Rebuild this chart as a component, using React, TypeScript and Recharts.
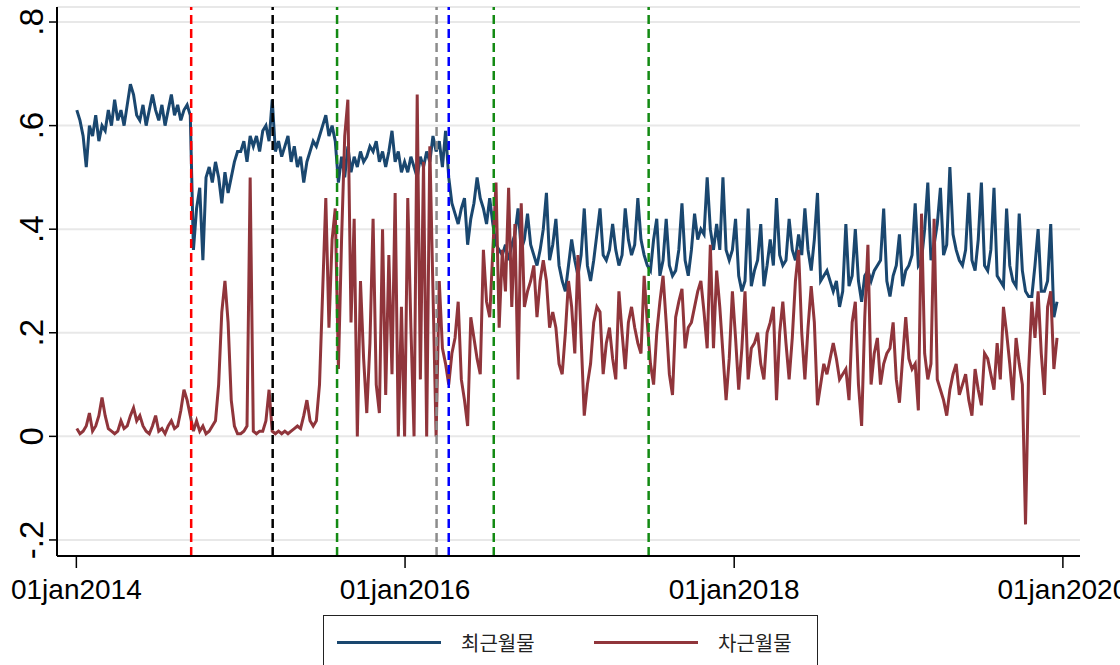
import React from "react";
import { LineChart, Line, XAxis, YAxis, CartesianGrid, ReferenceLine } from "recharts";

// weekly readings, first point 2014-01-02
const FIRST_DAY = "2014-01-02";

// 최근월물 (near month)
const NEAR_2014 = [
  0.63, 0.61, 0.58, 0.52, 0.6, 0.58, 0.62, 0.57, 0.6, 0.59,
  0.63, 0.6, 0.65, 0.61, 0.63, 0.6, 0.64, 0.68, 0.66, 0.62,
  0.61, 0.64, 0.6, 0.63, 0.66, 0.63, 0.61, 0.64, 0.6, 0.63,
  0.66, 0.62, 0.64, 0.61, 0.63, 0.64, 0.62, 0.36, 0.44, 0.48,
  0.34, 0.5, 0.52, 0.49, 0.53, 0.5, 0.45, 0.51, 0.47, 0.5,
  0.53, 0.55,
];
const NEAR_2015 = [
  0.55, 0.57, 0.53, 0.58, 0.56, 0.58, 0.55, 0.59, 0.6, 0.57,
  0.65, 0.55, 0.57, 0.54, 0.56, 0.58, 0.53, 0.56, 0.52, 0.54,
  0.49, 0.53, 0.55, 0.57, 0.56, 0.58, 0.6, 0.62, 0.58, 0.6,
  0.57, 0.49, 0.54, 0.5, 0.56, 0.51, 0.54, 0.52, 0.55, 0.53,
  0.54, 0.56, 0.55, 0.57, 0.53, 0.55, 0.52, 0.55, 0.59, 0.53,
  0.55, 0.51,
];
const NEAR_2016 = [
  0.53, 0.51, 0.54, 0.52, 0.5, 0.54, 0.52, 0.55, 0.53, 0.58,
  0.55, 0.57, 0.52, 0.59, 0.5, 0.45, 0.43, 0.41, 0.44, 0.46,
  0.37, 0.42, 0.45, 0.5, 0.46, 0.44, 0.41, 0.46, 0.41, 0.37,
  0.36, 0.35, 0.37, 0.34, 0.37, 0.39, 0.44, 0.36, 0.38, 0.43,
  0.37, 0.35, 0.33, 0.36, 0.4, 0.47, 0.34, 0.37, 0.42, 0.33,
  0.3, 0.28,
];
const NEAR_2017 = [
  0.33, 0.38, 0.34, 0.31, 0.35, 0.44, 0.33, 0.3, 0.34, 0.39,
  0.44, 0.35, 0.34, 0.36, 0.41, 0.36, 0.33, 0.35, 0.44, 0.38,
  0.35, 0.37, 0.46, 0.38, 0.35, 0.33, 0.32, 0.38, 0.42, 0.31,
  0.34, 0.42, 0.33, 0.31, 0.32, 0.36, 0.45, 0.34, 0.31, 0.36,
  0.43, 0.38, 0.4, 0.39, 0.5, 0.4, 0.36, 0.41, 0.36, 0.5,
  0.36, 0.34,
];
const NEAR_2018 = [
  0.36, 0.42, 0.31, 0.28, 0.3, 0.44, 0.29, 0.32, 0.34, 0.41,
  0.29, 0.33, 0.38, 0.33, 0.46, 0.35, 0.33, 0.34, 0.42, 0.36,
  0.34, 0.39, 0.35, 0.44, 0.36, 0.32, 0.38, 0.47, 0.3, 0.31,
  0.32, 0.3, 0.28, 0.3, 0.25, 0.28, 0.41, 0.29, 0.31, 0.4,
  0.3, 0.26, 0.31, 0.32, 0.3, 0.32, 0.33, 0.34, 0.44, 0.3,
  0.27, 0.31,
];
const NEAR_2019 = [
  0.33, 0.39, 0.29, 0.32, 0.33, 0.35, 0.45, 0.33, 0.34, 0.4,
  0.49, 0.34, 0.37, 0.41, 0.48, 0.35, 0.37, 0.52, 0.39, 0.36,
  0.34, 0.33, 0.36, 0.47, 0.34, 0.32, 0.38, 0.49, 0.33, 0.32,
  0.36, 0.48, 0.31, 0.3, 0.29, 0.44, 0.33, 0.3, 0.29, 0.43,
  0.32, 0.28, 0.27, 0.27, 0.33, 0.4, 0.28, 0.28, 0.3, 0.41,
  0.23, 0.26,
];

// 차근월물 (next month)
const FAR_2014 = [
  0.015, 0.005, 0.01, 0.02, 0.045, 0.01, 0.02, 0.04, 0.075, 0.04,
  0.015, 0.01, 0.005, 0.01, 0.03, 0.015, 0.02, 0.04, 0.055, 0.03,
  0.04, 0.02, 0.01, 0.005, 0.02, 0.04, 0.01, 0.015, 0.005, 0.02,
  0.03, 0.015, 0.02, 0.05, 0.09, 0.07, 0.04, 0.01, 0.03, 0.01,
  0.02, 0.005, 0.01, 0.02, 0.03, 0.1, 0.24, 0.3, 0.22, 0.07,
  0.02, 0.005,
];
const FAR_2015 = [
  0.005, 0.01, 0.02, 0.5, 0.01, 0.005, 0.01, 0.01, 0.03, 0.09,
  0.01, 0.005, 0.01, 0.005, 0.01, 0.005, 0.01, 0.015, 0.02, 0.015,
  0.04, 0.07, 0.03, 0.02, 0.03, 0.1, 0.28, 0.46, 0.21, 0.38,
  0.44, 0.13, 0.38, 0.58, 0.65, 0.22, 0.42, 0.0, 0.3, 0.15,
  0.045, 0.18, 0.42, 0.1, 0.045, 0.4, 0.08, 0.35, 0.12, 0.47,
  0.0, 0.25,
];
const FAR_2016 = [
  0.0, 0.46, 0.21, 0.0, 0.66, 0.11, 0.53, 0.0, 0.56, 0.28,
  0.0, 0.3, 0.17, 0.14, 0.1, 0.16, 0.19, 0.26, 0.11, 0.07,
  0.02, 0.23, 0.19, 0.15, 0.12, 0.36, 0.26, 0.23, 0.36, 0.49,
  0.21, 0.36, 0.28, 0.48, 0.25, 0.41, 0.11, 0.45, 0.25, 0.28,
  0.3, 0.33, 0.23, 0.3, 0.34, 0.3, 0.21, 0.24, 0.21, 0.14,
  0.12, 0.2,
];
const FAR_2017 = [
  0.3, 0.25, 0.16, 0.35, 0.19, 0.04, 0.1, 0.14, 0.22, 0.25,
  0.24, 0.12, 0.18, 0.21, 0.15, 0.11, 0.28, 0.2, 0.13, 0.22,
  0.25, 0.21, 0.18, 0.16, 0.31, 0.22, 0.14, 0.1, 0.2, 0.26,
  0.31, 0.22, 0.12, 0.08, 0.23, 0.26, 0.285, 0.17, 0.21, 0.22,
  0.25, 0.28, 0.3, 0.24, 0.17, 0.37, 0.17, 0.32, 0.25, 0.16,
  0.07, 0.15,
];
const FAR_2018 = [
  0.28, 0.19, 0.09, 0.17, 0.28, 0.11, 0.17, 0.18, 0.2, 0.14,
  0.11, 0.2, 0.22, 0.25, 0.07, 0.2, 0.26, 0.18, 0.11, 0.19,
  0.3, 0.36, 0.2, 0.11, 0.21, 0.29, 0.22, 0.06, 0.1, 0.14,
  0.12, 0.15, 0.18, 0.15, 0.11, 0.12, 0.13, 0.07, 0.22, 0.26,
  0.1, 0.02, 0.23, 0.37, 0.1, 0.16, 0.19, 0.1, 0.14, 0.16,
  0.17, 0.22,
];
const FAR_2019 = [
  0.11, 0.065, 0.15, 0.23, 0.15, 0.13, 0.14, 0.05, 0.43, 0.16,
  0.11, 0.14, 0.42, 0.11, 0.09, 0.07, 0.04, 0.09, 0.12, 0.14,
  0.08, 0.1, 0.12, 0.07, 0.04, 0.13, 0.09, 0.06, 0.16, 0.15,
  0.12, 0.09, 0.18, 0.11, 0.25, 0.2, 0.14, 0.07, 0.19, 0.14,
  0.1, -0.17, 0.13, 0.26, 0.19, 0.28, 0.16, 0.08, 0.25, 0.28,
  0.13, 0.19,
];

const X_TICKS = ["2014-01-01", "2016-01-01", "2018-01-01", "2020-01-01"];
const Y_TICKS = [-0.2, 0, 0.2, 0.4, 0.6, 0.8];
const EVENT_DATES = ["2014-09-13", "2015-03-13", "2015-08-03", "2016-03-11", "2016-04-07", "2016-07-16", "2017-06-25"];
const SERIES_NAMES = ["최근월물", "차근월물"];

const EVENT_COLORS = ["#ff0000", "#000000", "#138a13", "#8c8c8c", "#0000ff", "#138a13", "#138a13"];
const NAVY = "#1a476f";
const MAROON = "#90353b";
const DAY = 86400000;
const MONTHS = ["jan", "feb", "mar", "apr", "may", "jun", "jul", "aug", "sep", "oct", "nov", "dec"];

const near = [...NEAR_2014, ...NEAR_2015, ...NEAR_2016, ...NEAR_2017, ...NEAR_2018, ...NEAR_2019];
const far = [...FAR_2014, ...FAR_2015, ...FAR_2016, ...FAR_2017, ...FAR_2018, ...FAR_2019];
const t0 = Date.parse(FIRST_DAY);
const data = near.map((v, i) => ({ t: t0 + i * 7 * DAY, near: v, far: far[i] }));

const fmtDate = (v: number) => {
  const d = new Date(v);
  return `${String(d.getUTCDate()).padStart(2, "0")}${MONTHS[d.getUTCMonth()]}${d.getUTCFullYear()}`;
};
const fmtNum = (v: number) => {
  if (Math.abs(v) < 1e-9) return "0";
  const s = String(Math.round(v * 10) / 10);
  return s.replace("0.", ".");
};

const XTick = ({ x, y, payload }: any) => (
  <text x={x} y={y + 29} textAnchor="middle" fontSize={28} fill="#000" fontFamily="Liberation Sans, Arial">
    {fmtDate(payload.value)}
  </text>
);

const YTick = ({ x, y, payload }: any) => {
  const bx = x - 6;
  return (
    <text
      x={bx}
      y={y}
      transform={`rotate(-90, ${bx}, ${y})`}
      textAnchor="middle"
      fontSize={33}
      fill="#000"
      fontFamily="Liberation Sans, Arial"
    >
      {fmtNum(payload.value)}
    </text>
  );
};

export default function App() {
  return (
    <div style={{ position: "absolute", left: 0, top: 0, width: 1120, height: 665, overflow: "hidden", background: "#fff" }}>
      <LineChart width={1120} height={665} data={data} margin={{ top: 7, right: 40, left: 0, bottom: 49 }}>
        <CartesianGrid horizontal vertical={false} stroke="#e8e8e8" strokeWidth={2} />
        <XAxis
          dataKey="t"
          type="number"
          domain={[Date.parse("2013-11-19"), Date.parse("2020-02-08")]}
          ticks={X_TICKS.map((d) => Date.parse(d))}
          interval={0}
          tick={<XTick />}
          tickSize={12}
          height={60}
          axisLine={{ stroke: "#000", strokeWidth: 2 }}
          tickLine={{ stroke: "#000", strokeWidth: 1.5 }}
          allowDataOverflow
        />
        <YAxis
          type="number"
          domain={[-0.231, 0.829]}
          ticks={Y_TICKS}
          interval={0}
          tick={<YTick />}
          tickSize={8}
          tickMargin={0}
          width={57}
          axisLine={{ stroke: "#000", strokeWidth: 2 }}
          tickLine={{ stroke: "#000", strokeWidth: 1.5 }}
          allowDataOverflow
        />
        <Line dataKey="near" name={SERIES_NAMES[0]} stroke={NAVY} strokeWidth={3} dot={false} type="linear" isAnimationActive={false} />
        <Line dataKey="far" name={SERIES_NAMES[1]} stroke={MAROON} strokeWidth={3} dot={false} type="linear" isAnimationActive={false} />
        {EVENT_DATES.map((d, i) => (
          <ReferenceLine key={d} x={Date.parse(d)} stroke={EVENT_COLORS[i]} strokeWidth={2.5} strokeDasharray="9 5" />
        ))}
      </LineChart>
      <div
        style={{
          position: "absolute",
          left: 323,
          top: 615,
          width: 493,
          height: 60,
          border: "1.5px solid #222",
          background: "#fff",
          fontFamily: "'Noto Sans CJK KR', sans-serif",
          fontSize: 20,
          color: "#222",
        }}
      >
        {SERIES_NAMES.map((name, i) => (
          <div key={name} style={{ position: "absolute", left: 13 + i * 257, top: 12, display: "flex", alignItems: "center" }}>
            <div style={{ width: 104, height: 3, background: i === 0 ? NAVY : MAROON }} />
            <span style={{ marginLeft: 20 }}>{name}</span>
          </div>
        ))}
      </div>
    </div>
  );
}
